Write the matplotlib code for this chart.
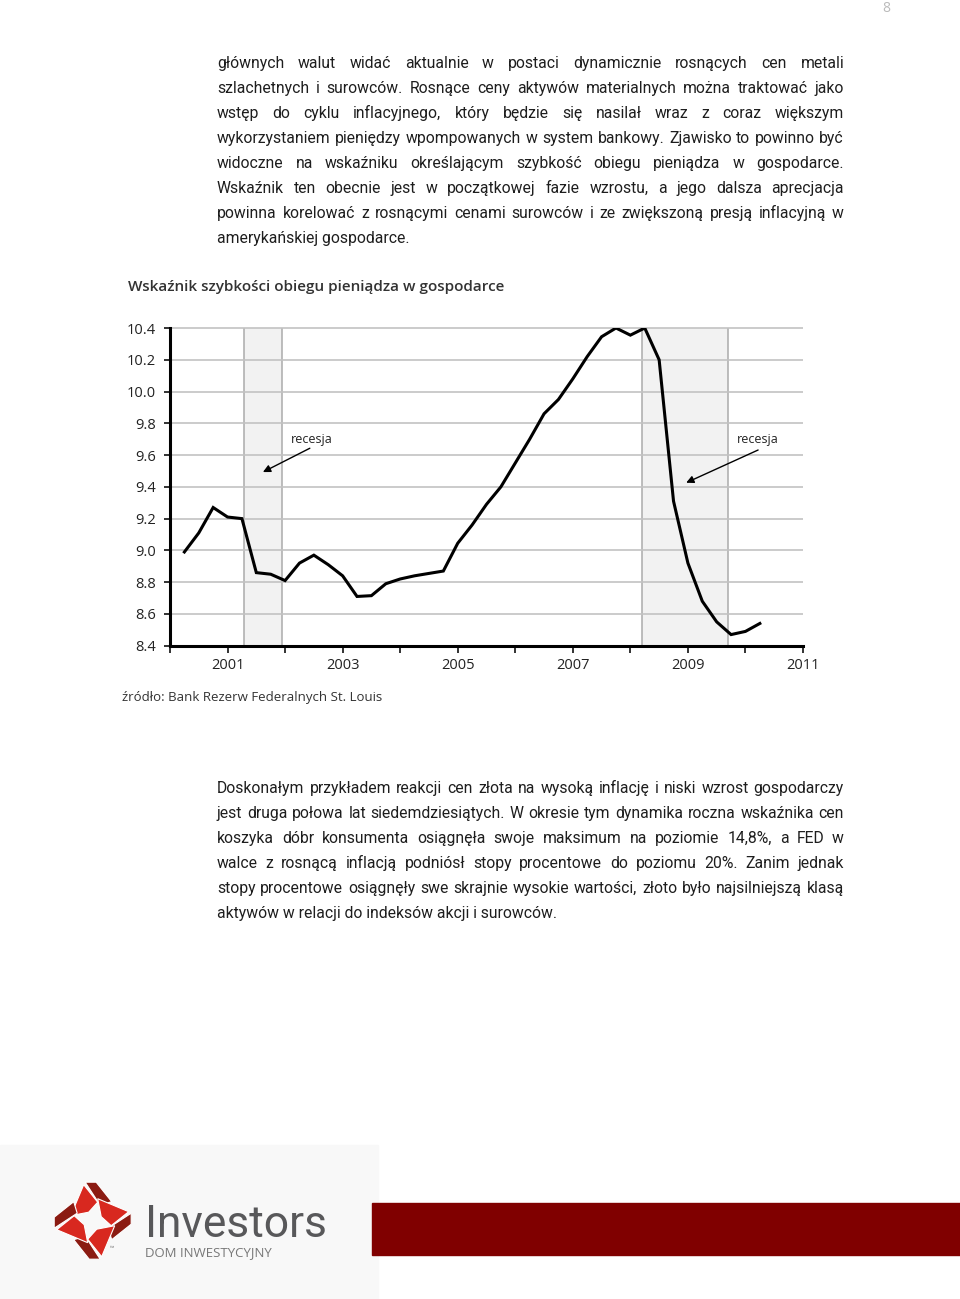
import matplotlib
matplotlib.use('Agg')
import numpy as np
import pandas as pd
import matplotlib.pyplot as plt
from matplotlib.patches import Polygon, Rectangle

plt.rcParams['font.family'] = ['Open Sans', 'DejaVu Sans']

# --- dane (kwartalnie) ---
quarters = ['2000-04', '2000-07', '2000-10',
            '2001-01', '2001-04', '2001-07', '2001-10',
            '2002-01', '2002-04', '2002-07', '2002-10',
            '2003-01', '2003-04', '2003-07', '2003-10',
            '2004-01', '2004-04', '2004-07', '2004-10',
            '2005-01', '2005-04', '2005-07', '2005-10',
            '2006-01', '2006-04', '2006-07', '2006-10',
            '2007-01', '2007-04', '2007-07', '2007-10',
            '2008-01', '2008-04', '2008-07', '2008-10',
            '2009-01', '2009-04', '2009-07', '2009-10',
            '2010-01', '2010-04']
velocity = [8.99, 9.11, 9.27,
            9.21, 9.20, 8.86, 8.85,
            8.81, 8.92, 8.97, 8.91,
            8.84, 8.71, 8.715, 8.79,
            8.82, 8.84, 8.855, 8.87,
            9.045, 9.16, 9.29, 9.40,
            9.55, 9.70, 9.86, 9.95,
            10.08, 10.22, 10.345, 10.40,
            10.355, 10.40, 10.20, 9.31,
            8.92, 8.68, 8.55, 8.47,
            8.49, 8.54]
recessions = [(2001.28, 2001.94), (2008.21, 2009.70)]
year_ticks = [2000, 2001, 2002, 2003, 2004, 2005, 2006, 2007, 2008, 2009, 2010, 2011]
year_labels = ['', '2001', '', '2003', '', '2005', '', '2007', '', '2009', '', '2011']
y_ticks = [8.4, 8.6, 8.8, 9.0, 9.2, 9.4, 9.6, 9.8, 10.0, 10.2, 10.4]

chart_title = 'Wskaźnik szybkości obiegu pieniądza w gospodarce'
source_note = 'źródło: Bank Rezerw Federalnych St. Louis'

para1 = [
    "głównych walut widać aktualnie w postaci dynamicznie rosnących cen metali",
    "szlachetnych i surowców. Rosnące ceny aktywów materialnych można traktować jako",
    "wstęp do cyklu inflacyjnego, który będzie się nasilał wraz z coraz większym",
    "wykorzystaniem pieniędzy wpompowanych w system bankowy. Zjawisko to powinno być",
    "widoczne na wskaźniku określającym szybkość obiegu pieniądza w gospodarce.",
    "Wskaźnik ten obecnie jest w początkowej fazie wzrostu, a jego dalsza aprecjacja",
    "powinna korelować z rosnącymi cenami surowców i ze zwiększoną presją inflacyjną w",
    "amerykańskiej gospodarce.",
]
para2 = [
    "Doskonałym przykładem reakcji cen złota na wysoką inflację i niski wzrost gospodarczy",
    "jest druga połowa lat siedemdziesiątych. W okresie tym dynamika roczna wskaźnika cen",
    "koszyka dóbr konsumenta osiągnęła swoje maksimum na poziomie 14,8%, a FED w",
    "walce z rosnącą inflacją podniósł stopy procentowe do poziomu 20%. Zanim jednak",
    "stopy procentowe osiągnęły swe skrajnie wysokie wartości, złoto było najsilniejszą klasą",
    "aktywów w relacji do indeksów akcji i surowców.",
]

dates = pd.to_datetime(quarters)
x = dates.year + (dates.month - 1) / 12

# --- strona ---
fig = plt.figure(figsize=(9.6, 12.99), dpi=100)
page = fig.add_axes([0, 0, 1, 1])
page.set_xlim(0, 960)
page.set_ylim(1299, 0)
page.axis('off')
renderer = fig.canvas.get_renderer()

text_color = '#1e1e1e'
body_font = ['Roboto', 'DejaVu Sans']


def fit_size(txt, width, family, base=10, **kw):
    probe = page.text(0, 0, txt, fontsize=base, family=family, **kw)
    w = probe.get_window_extent(renderer).width
    probe.remove()
    return base * width / w


fs_body = fit_size(para2[4], 622, body_font)


def justify(lines, x0, x1, y0, step):
    for i, line in enumerate(lines):
        y = y0 + i * step
        style = dict(fontsize=fs_body, color=text_color, va='baseline', family=body_font)
        if i == len(lines) - 1:
            page.text(x0, y, line, **style)
            continue
        words = line.split()
        arts = [page.text(0, y, w, **style) for w in words]
        widths = [a.get_window_extent(renderer).width for a in arts]
        gap = (x1 - x0 - sum(widths)) / (len(words) - 1)
        pos = x0
        for a, w in zip(arts, widths):
            a.set_x(pos)
            pos += w + gap


justify(para1, 217, 844, 67.5, 25)
justify(para2, 217, 844, 792.5, 25)

page.text(886, 12, '8', fontsize=10, color='#bbbbbb', ha='center', va='baseline')

page.text(128, 291, chart_title, fontsize=11, fontweight='semibold', color='#333333', va='baseline')
page.text(122, 701, source_note, fontsize=9.5, color='#333333', va='baseline')

# --- stopka ---
page.add_patch(Rectangle((0, 1145), 378, 154, color='#f8f8f8', zorder=0))
page.add_patch(Rectangle((372, 1203), 588, 52, color='#800000', zorder=1))

cx, cy = 92.7, 1220.7
blade = np.array([[-9, 36], [5, 18.5], [-4, 8.5], [-22, 5]])
rhomb = np.array([[-7.5, 38.5], [3.5, 38.5], [19, 19], [7.5, 15.5]])
for k in range(4):
    ang = -np.pi / 2 * k
    rot = np.array([[np.cos(ang), -np.sin(ang)], [np.sin(ang), np.cos(ang)]])
    for shape, col in [(blade, '#d8281f'), (rhomb, '#8b1b12')]:
        pts = shape @ rot.T
        page.add_patch(Polygon(np.column_stack([cx + pts[:, 0], cy - pts[:, 1]]),
                               closed=True, facecolor=col, edgecolor='white', lw=0.8, zorder=2))
page.text(110, 1249, '™', fontsize=4, color='#777777', va='center')
logo_family = ['Roboto', 'DejaVu Sans']
fs_logo = fit_size('Investors', 183, logo_family)
page.text(145, 1237, 'Investors', fontsize=fs_logo, family=logo_family, color='#58585a', va='baseline')
page.text(145, 1256, 'DOM INWESTYCYJNY', fontsize=9.5, color='#777777', va='baseline')

# --- wykres ---
ax = fig.add_axes([170 / 960, 1 - 645.7 / 1299, 633 / 960, 317.7 / 1299])
ax.set_xlim(2000, 2011)
ax.set_ylim(8.4, 10.4)
ax.patch.set_alpha(0)

for start, end in recessions:
    ax.axvspan(start, end, color='#f2f2f2', zorder=0.5, lw=0)
    ax.axvline(start, color='#ababab', lw=1.1, zorder=0.8)
    ax.axvline(end, color='#ababab', lw=1.1, zorder=0.8)

ax.hlines(y_ticks[1:], 2000, 2011, color='#c2c2c2', lw=1.2, zorder=1, clip_on=False)
ax.plot(x, velocity, color='black', lw=2.2, zorder=3, solid_joinstyle='miter')

ax.set_xticks(year_ticks)
ax.set_xticklabels(year_labels)
ax.set_yticks(y_ticks)
ax.set_yticklabels([f'{v:.1f}' for v in y_ticks])
ax.tick_params(axis='x', direction='out', length=5, width=1.3, pad=4, labelsize=10.5, colors='#222222')
ax.tick_params(axis='y', direction='out', length=4, width=1.3, pad=6, labelsize=10.5, colors='#222222')
for side in ['top', 'right']:
    ax.spines[side].set_visible(False)
for side in ['left', 'bottom']:
    ax.spines[side].set_linewidth(2.2)
    ax.spines[side].set_color('black')
ax.spines['bottom'].set_zorder(4)

arrow = dict(arrowstyle='-|>', color='black', lw=1.0, mutation_scale=11, shrinkA=0, shrinkB=0)
ax.text(2002.47, 9.70, 'recesja', fontsize=9, color='#222222', ha='center', va='center')
ax.annotate('', xy=(2001.615, 9.493), xytext=(2002.43, 9.643), arrowprops=arrow)
ax.text(2010.22, 9.70, 'recesja', fontsize=9, color='#222222', ha='center', va='center')
ax.annotate('', xy=(2008.97, 9.426), xytext=(2010.22, 9.632), arrowprops=arrow)

fig.savefig('out.png', dpi=100)
